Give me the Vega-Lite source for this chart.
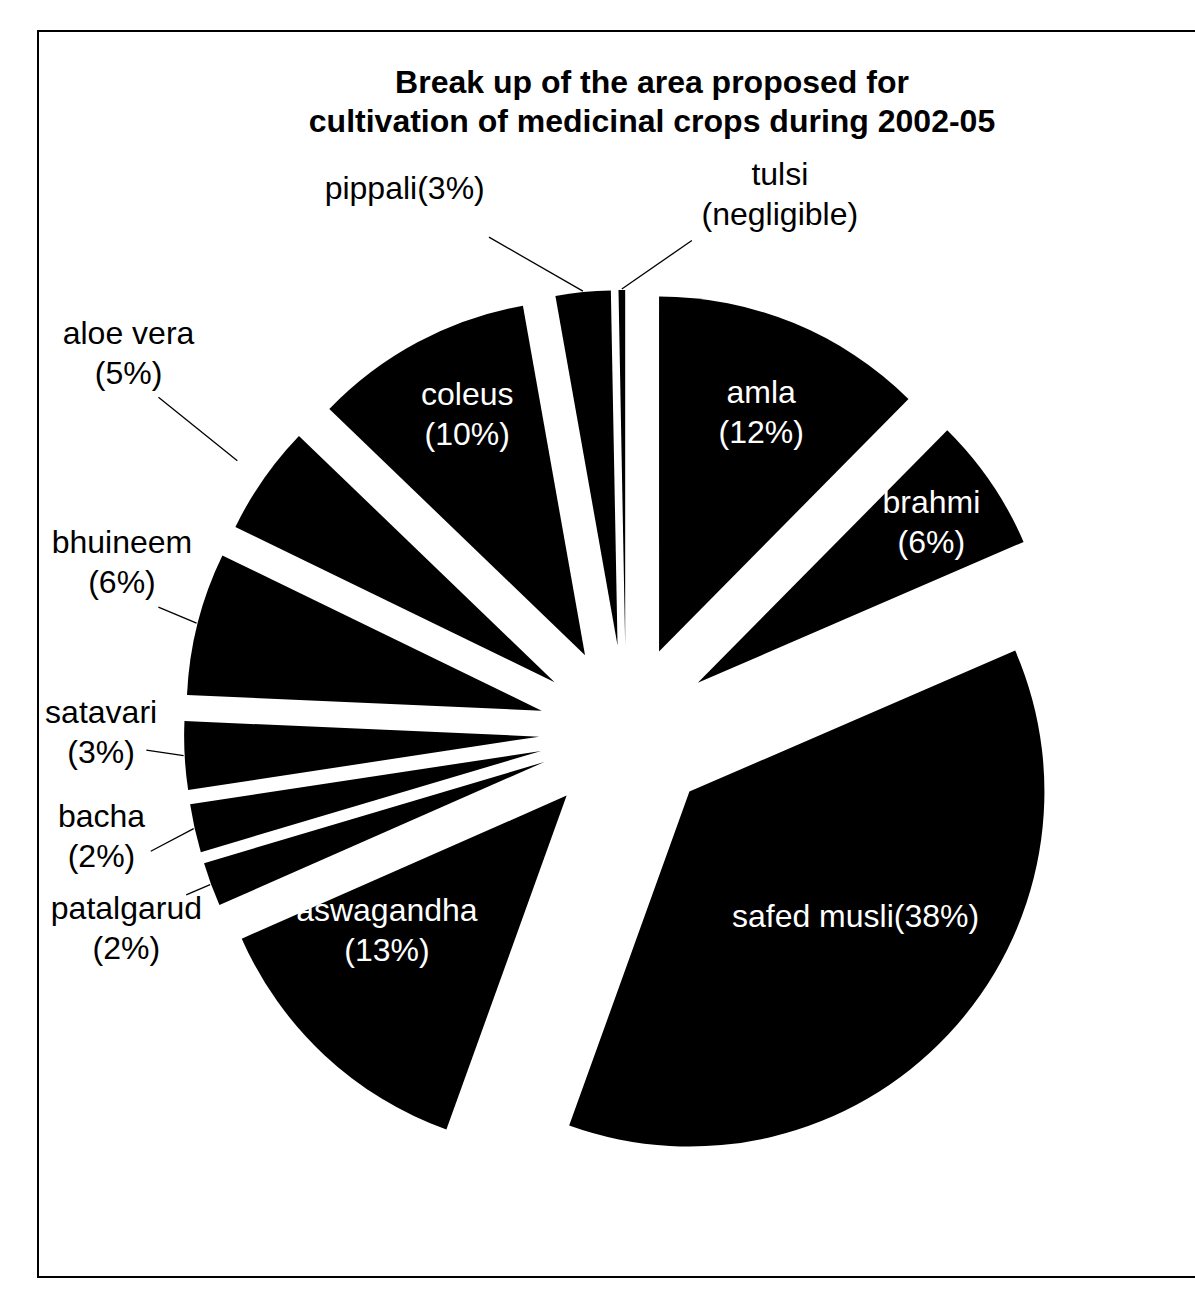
{
  "$schema": "https://vega.github.io/schema/vega-lite/v6.json",
  "width": 1228,
  "height": 1246,
  "autosize": {"type": "none"},
  "padding": {"left": 38, "top": 31, "right": 0, "bottom": 16},
  "background": "white",
  "config": {"view": {"stroke": "black", "strokeWidth": 2}, "font": "Liberation Sans"},
  "title": {
    "text": ["Break up of the area proposed for", "cultivation of medicinal crops during 2002-05"],
    "anchor": "middle",
    "frame": "group",
    "orient": "top",
    "offset": -133,
    "baseline": "alphabetic",
    "fontSize": 32,
    "font": "Liberation Sans",
    "fontWeight": "bold",
    "lineHeight": 39,
    "color": "black"
  },
  "data": {
    "values": [
      {"crop": "amla", "value": 12.4, "label": "amla\n(12%)"},
      {"crop": "brahmi", "value": 6.1, "label": "brahmi\n(6%)"},
      {"crop": "safed musli", "value": 37.0, "label": "safed musli(38%)"},
      {"crop": "aswagandha", "value": 12.9, "label": "aswagandha\n(13%)"},
      {"crop": "patalgarud", "value": 2.0, "label": "patalgarud\n(2%)"},
      {"crop": "bacha", "value": 2.2, "label": "bacha\n(2%)"},
      {"crop": "satavari", "value": 3.1, "label": "satavari\n(3%)"},
      {"crop": "bhuineem", "value": 6.5, "label": "bhuineem\n(6%)"},
      {"crop": "aloe vera", "value": 5.0, "label": "aloe vera\n(5%)"},
      {"crop": "coleus", "value": 10.0, "label": "coleus\n(10%)"},
      {"crop": "pippali", "value": 2.5, "label": "pippali(3%)"},
      {"crop": "tulsi", "value": 0.3, "label": "tulsi\n(negligible)"}
    ]
  },
  "transform": [
    {"joinaggregate": [{"op": "sum", "field": "value", "as": "total"}]},
    {"window": [{"op": "sum", "field": "value", "as": "cum"}], "frame": [null, 0]},
    {"calculate": "2*PI*(datum.cum - datum.value)/datum.total", "as": "a0"},
    {"calculate": "2*PI*datum.cum/datum.total", "as": "a1"},
    {"calculate": "(datum.a0 + datum.a1)/2", "as": "tm"},
    {"calculate": "87*sin(datum.tm)", "as": "ex"},
    {"calculate": "87*cos(datum.tm)", "as": "ey"},
    {"calculate": "indexof(['amla','brahmi','safed musli','aswagandha','coleus'], datum.crop) >= 0", "as": "inside"},
    {"calculate": "indexof(datum.label, '(') > 0 && indexof(['safed musli','pippali'], datum.crop) < 0", "as": "twoLines"},
    {"calculate": "datum.tm + PI/180*({'amla':0.9,'brahmi':0,'safed musli':-6.2,'aswagandha':10,'coleus':2,'pippali':-19.4,'tulsi':19.5,'aloe vera':2.7,'bhuineem':5.2,'satavari':3.5,'bacha':1.5,'patalgarud':-1.6})[datum.crop]", "as": "la"},
    {"calculate": "({'amla':259,'brahmi':283,'safed musli':208,'aswagandha':225,'coleus':268,'pippali':504,'tulsi':476,'aloe vera':538,'bhuineem':445,'satavari':438,'bacha':448,'patalgarud':450})[datum.crop]", "as": "lr"}
  ],
  "layer": [
    {
      "mark": {"type": "arc", "outerRadius": 355, "fill": "black"},
      "encoding": {
        "x": {"field": "ex", "type": "quantitative", "stack": null, "scale": {"domain": [-100, 100], "range": [488, 688]}, "axis": null},
        "y": {"field": "ey", "type": "quantitative", "stack": null, "scale": {"domain": [-100, 100], "range": [801, 601]}, "axis": null},
        "theta": {"field": "a0", "type": "quantitative", "scale": null, "stack": null},
        "theta2": {"field": "a1"}
      }
    },
    {
      "transform": [
        {"filter": "!datum.inside"},
        {"calculate": "datum.crop == 'aloe vera' ? 387 : 356", "as": "rs"},
        {"calculate": "datum.tm + PI/180*({'pippali':-11.9,'tulsi':9.9,'aloe vera':0.8,'bhuineem':0.9,'satavari':1.1,'bacha':-1.8,'patalgarud':-0.2})[datum.crop]", "as": "ta"},
        {"calculate": "({'pippali':428,'tulsi':410,'aloe vera':488,'bhuineem':397,'satavari':393,'bacha':403,'patalgarud':382})[datum.crop]", "as": "tr"},
        {"calculate": "datum.ex + datum.rs*sin(datum.tm)", "as": "sx"},
        {"calculate": "datum.ey + datum.rs*cos(datum.tm)", "as": "sy"},
        {"calculate": "datum.ex + datum.tr*sin(datum.ta)", "as": "qx"},
        {"calculate": "datum.ey + datum.tr*cos(datum.ta)", "as": "qy"}
      ],
      "mark": {"type": "rule", "color": "black", "strokeWidth": 1.3},
      "encoding": {
        "x": {"field": "sx", "type": "quantitative", "stack": null},
        "y": {"field": "sy", "type": "quantitative", "stack": null},
        "x2": {"field": "qx"},
        "y2": {"field": "qy"}
      }
    },
    {
      "transform": [{"filter": "datum.twoLines"}],
      "mark": {"type": "text", "fontSize": 32, "lineBreak": "\n", "lineHeight": 40, "align": "center", "baseline": "middle", "dy": -20, "font": "Liberation Sans"},
      "encoding": {
        "x": {"field": "ex", "type": "quantitative", "stack": null},
        "y": {"field": "ey", "type": "quantitative", "stack": null},
        "theta": {"field": "la", "type": "quantitative", "scale": null, "stack": null},
        "radius": {"field": "lr", "type": "quantitative", "scale": null},
        "text": {"field": "label"},
        "color": {"condition": {"test": "datum.inside", "value": "white"}, "value": "black"}
      }
    },
    {
      "transform": [{"filter": "!datum.twoLines"}],
      "mark": {"type": "text", "fontSize": 32, "align": "center", "baseline": "middle", "font": "Liberation Sans"},
      "encoding": {
        "x": {"field": "ex", "type": "quantitative", "stack": null},
        "y": {"field": "ey", "type": "quantitative", "stack": null},
        "theta": {"field": "la", "type": "quantitative", "scale": null, "stack": null},
        "radius": {"field": "lr", "type": "quantitative", "scale": null},
        "text": {"field": "label"},
        "color": {"condition": {"test": "datum.inside", "value": "white"}, "value": "black"}
      }
    }
  ]
}
